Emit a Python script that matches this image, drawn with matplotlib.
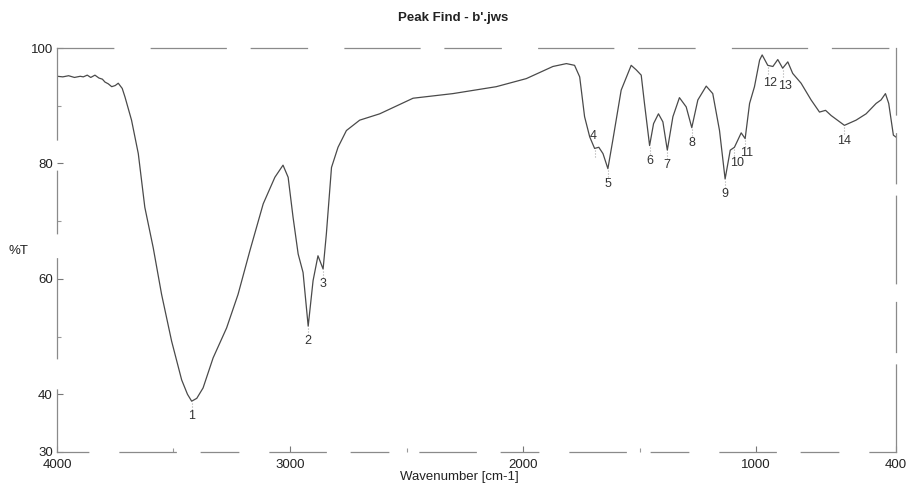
import matplotlib.pyplot as plt

plt.rcParams['font.family'] = ['Liberation Sans', 'DejaVu Sans']

# Spectrum: wavenumber [cm-1] and %T
wavenumber = [3998, 3975, 3950, 3925, 3900, 3887, 3870, 3855, 3837, 3820, 3805,
              3794, 3780, 3765, 3750, 3737, 3720, 3708, 3680, 3651, 3623,
              3587, 3551, 3508, 3465, 3440, 3422, 3400, 3373, 3330, 3272,
              3223, 3172, 3115, 3065, 3030, 3008, 2987, 2965, 2944, 2922,
              2901, 2880, 2858, 2844, 2822, 2794, 2758, 2701, 2615, 2472,
              2301, 2115, 1986, 1872, 1814, 1779, 1757, 1736, 1714, 1693,
              1675, 1657, 1636, 1615, 1579, 1536, 1514, 1493, 1479, 1457,
              1440, 1419, 1400, 1381, 1357, 1329, 1300, 1276, 1250, 1214,
              1186, 1157, 1133, 1111, 1093, 1079, 1064, 1047, 1028, 1007,
              985, 974, 950, 928, 907, 886, 864, 843, 807, 764, 728, 702,
              678, 621, 571, 528, 485, 464, 445, 431, 411, 401]
transmittance = [95.1, 95.0, 95.2, 94.9, 95.1, 95.0, 95.3, 94.9, 95.3, 94.8, 94.6,
                 94.1, 93.8, 93.3, 93.5, 93.9, 93.0, 91.5, 87.5, 81.7, 72.4,
                 65.4, 57.3, 49.2, 42.5, 40.0, 38.8, 39.3, 41.1, 46.3, 51.5,
                 57.3, 64.9, 73.0, 77.6, 79.7, 77.6, 70.7, 64.3, 61.1, 51.8,
                 59.7, 64.0, 61.7, 67.8, 79.3, 82.8, 85.7, 87.5, 88.6, 91.3,
                 92.1, 93.3, 94.7, 96.8, 97.3, 97.0, 95.0, 88.1, 84.6, 82.6,
                 82.8, 81.7, 79.1, 84.0, 92.7, 97.0, 96.2, 95.3, 90.4, 83.1,
                 86.9, 88.6, 87.2, 82.3, 88.1, 91.4, 89.8, 86.2, 91.0, 93.4,
                 92.1, 85.7, 77.3, 82.3, 82.8, 84.0, 85.3, 84.3, 90.4, 93.3,
                 97.9, 98.8, 97.0, 96.8, 98.0, 96.5, 97.6, 95.6, 93.9, 91.0,
                 88.9, 89.2, 88.3, 86.6, 87.5, 88.6, 90.4, 91.0, 92.1, 90.4,
                 84.9, 84.6]

# Peak-find results
peak_labels = ['1', '2', '3', '4', '5', '6', '7', '8', '9', '10', '11', '12', '13', '14']
peak_wn = [3422, 2922, 2858, 1693, 1636, 1457, 1381, 1276, 1133, 1093, 1047, 950, 886, 621]
peak_t = [38.8, 51.8, 61.7, 82.6, 79.1, 83.1, 82.3, 86.2, 77.3, 82.8, 84.3, 97.0, 96.5, 86.6]

x_ticks = [4000, 3000, 2000, 1000, 400]
y_ticks = [30, 40, 60, 80, 100]

fig = plt.figure(figsize=(9.07, 4.86), dpi=100)
ax = fig.add_axes([0.0628, 0.07, 0.925, 0.8312])

ax.plot(wavenumber, transmittance, color='#4a4a4a', linewidth=0.9)

# peak markers and numbers
for lab, w, t in zip(peak_labels, peak_wn, peak_t):
    ax.plot([w, w], [t - 0.3, t - 1.6], color='#aaaaaa', linewidth=0.8, linestyle=':')
    if lab == '4':
        off = (-1, 9)
    elif lab == '10':
        off = (2, -11)
    elif lab == '11':
        off = (1, -10)
    elif lab in ('12', '13'):
        off = (2, -13)
    else:
        off = (0, -11)
    ax.annotate(lab, (w, t), xytext=off, textcoords='offset points',
                ha='center', va='center', fontsize=9, color='#333333')

ax.set_xlim(4000, 400)
ax.set_ylim(30, 100)
ax.set_xticks(x_ticks)
ax.set_xticklabels([str(v) for v in x_ticks])
ax.set_yticks(y_ticks)
ax.set_yticklabels([str(v) for v in y_ticks])
ax.set_xticks([3500, 2500, 1500], minor=True)
ax.set_yticks([50, 70, 90], minor=True)
ax.tick_params(axis='both', which='major', direction='in', length=4, width=0.8,
               color='#777777', labelsize=9.5, labelcolor='#222222')
ax.tick_params(axis='x', which='major', pad=5)
ax.tick_params(axis='y', which='major', pad=3)
ax.tick_params(axis='both', which='minor', direction='in', length=3, width=0.8,
               color='#999999')

# faded, broken frame like the scanned printout
for side in ['top', 'right', 'bottom', 'left']:
    ax.spines[side].set_color('#8a8a8a')
    ax.spines[side].set_linewidth(0.9)
ax.spines['top'].set_linestyle((0, (45, 30, 60, 20)))
ax.spines['bottom'].set_linestyle((5, (30, 25, 45, 20)))
ax.spines['right'].set_linestyle((0, (70, 10, 40, 15)))
ax.spines['left'].set_linestyle((0, (50, 25, 80, 20)))

ax.set_xlabel('Wavenumber [cm-1]', fontsize=9.5, color='#222222')
ax.xaxis.set_label_coords(0.48, -0.048)
ax.set_ylabel('%T', fontsize=9.5, rotation=0, color='#222222')
ax.yaxis.set_label_coords(-0.046, 0.483)

fig.text(0.5, 0.963, "Peak Find - b'.jws", ha='center', va='center',
         fontsize=9.5, fontweight='bold', color='#222222')

plt.savefig('out.png', dpi=100)
